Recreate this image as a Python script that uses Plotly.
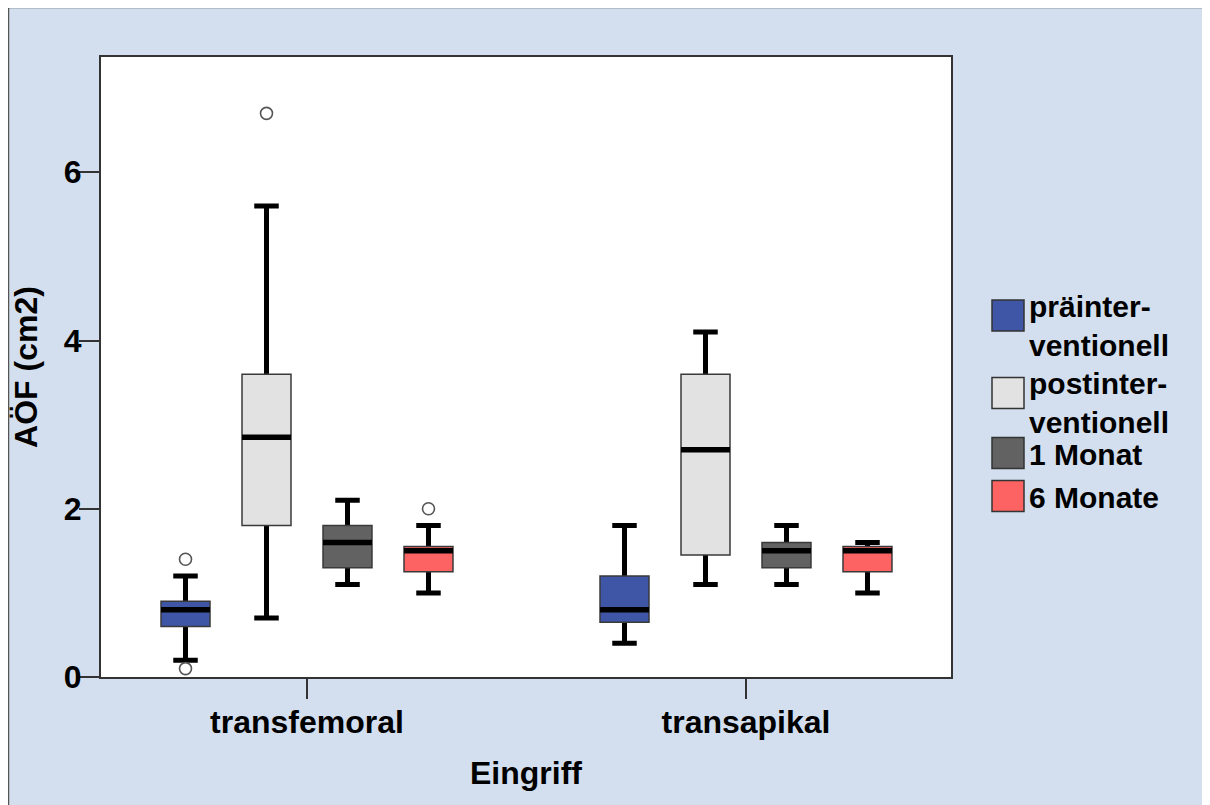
import numpy as np
import plotly.graph_objects as go

# ---------------- data ----------------
categories = ["transfemoral", "transapikal"]
series_names = ["präinterventionell", "postinterventionell", "1 Monat", "6 Monate"]
legend_labels = ["präinter-<br>ventionell", "postinter-<br>ventionell", "1 Monat", "6 Monate"]
colors = ["#3f56a7", "#e2e2e2", "#626262", "#fd6363"]

lower_whisker = [[0.2, 0.4], [0.7, 1.1], [1.1, 1.1], [1.0, 1.0]]
q1_values = [[0.6, 0.65], [1.8, 1.45], [1.3, 1.3], [1.25, 1.25]]
medians = [[0.8, 0.8], [2.85, 2.7], [1.6, 1.5], [1.5, 1.5]]
q3_values = [[0.9, 1.2], [3.6, 3.6], [1.8, 1.6], [1.55, 1.55]]
upper_whisker = [[1.2, 1.8], [5.6, 4.1], [2.1, 1.8], [1.8, 1.6]]
# outliers per series, per category
outliers = [[[1.4, 0.1], []], [[6.7], []], [[], []], [[2.0], []]]

y_ticks = [0, 2, 4, 6]

# ---------------- layout constants ----------------
OFF = 8  # page offset of the figure (body margin)
W, H = 1202, 797
L, R, T, B = 93, 259, 49, 128
PW, PH = W - L - R, H - T - B
SLOT = 0.1845
BOX_W = 0.1116
FONT = dict(family="Liberation Sans, Arial, sans-serif", size=32, color="black", weight="bold")
LEG_FONT = dict(FONT, size=30)
BG = "#d3dfee"


def px_x(px):
    return (px - OFF - L) / PW


def px_y(py):
    return (H - B - (py - OFF)) / PH


fig = go.Figure()
base_x = np.arange(len(categories), dtype=float)

for s in range(len(series_names)):
    xs = base_x + (s - 1.5) * SLOT
    med = np.array(medians[s])
    # 1) thick whiskers (box collapsed to the median)
    fig.add_trace(go.Box(
        x=xs, q1=med, median=med, q3=med,
        lowerfence=lower_whisker[s], upperfence=upper_whisker[s],
        width=BOX_W, whiskerwidth=0.5,
        line=dict(color="black", width=5), fillcolor="black",
        showlegend=False, hoverinfo="skip", boxpoints=False,
    ))
    # 2) filled box with thin outline
    fig.add_trace(go.Box(
        x=xs, q1=q1_values[s], median=medians[s], q3=q3_values[s],
        lowerfence=q1_values[s], upperfence=q3_values[s],
        width=BOX_W, whiskerwidth=0,
        line=dict(color="#3a3a3a", width=1.5), fillcolor=colors[s],
        name=series_names[s], showlegend=False, boxpoints=False,
    ))
    # 3) thick median line
    fig.add_trace(go.Box(
        x=xs, q1=med, median=med, q3=med,
        lowerfence=med, upperfence=med,
        width=BOX_W, whiskerwidth=0,
        line=dict(color="black", width=5.5), fillcolor="black",
        showlegend=False, hoverinfo="skip", boxpoints=False,
    ))
    # outliers
    ox, oy = [], []
    for c in range(len(categories)):
        for v in outliers[s][c]:
            ox.append(xs[c])
            oy.append(v)
    if ox:
        fig.add_trace(go.Scatter(
            x=ox, y=oy, mode="markers", showlegend=False,
            marker=dict(symbol="circle-open", size=12, color="#555555", line=dict(width=1.6)),
        ))

shapes = [
    # outer frame border
    dict(type="rect", xref="paper", yref="paper", layer="below",
         x0=px_x(8.5), x1=px_x(1208.5), y0=px_y(830), y1=px_y(7.5),
         fillcolor=BG, line=dict(color="#555555", width=1.5)),
    # white plot area
    dict(type="rect", xref="paper", yref="paper", layer="below",
         x0=0, x1=1, y0=0, y1=1, fillcolor="white", line=dict(width=0)),
]

annotations = []
sq_centers = [315.5, 393, 453, 496]
for s in range(len(series_names)):
    cy = sq_centers[s]
    shapes.append(dict(type="rect", xref="paper", yref="paper",
                       x0=px_x(992), x1=px_x(1024), y0=px_y(cy + 15.5), y1=px_y(cy - 15.5),
                       fillcolor=colors[s], line=dict(color="#333333", width=1.5)))
    two_lines = "<br>" in legend_labels[s]
    ty = cy + 10 if two_lines else cy + 1
    annotations.append(dict(xref="paper", yref="paper", x=px_x(1027), y=px_y(ty),
                            xanchor="left", yanchor="middle", align="left",
                            text=legend_labels[s], showarrow=False, font=LEG_FONT))

fig.update_layout(
    width=W, height=H, autosize=False,
    margin=dict(l=L, r=R, t=T, b=B, pad=0),
    paper_bgcolor=BG, plot_bgcolor="white",
    boxmode="overlay", showlegend=False,
    font=FONT,
    shapes=shapes, annotations=annotations,
    xaxis=dict(
        range=[(101 - 307) / 439, (951 - 307) / 439],
        tickvals=base_x, ticktext=categories,
        ticks="outside", ticklen=20, tickwidth=1.5, tickcolor="#333333",
        ticklabelstandoff=-4,
        showline=True, mirror=True, linecolor="#333333", linewidth=2,
        showgrid=False, zeroline=False, tickfont=FONT,
        title=dict(text="Eingriff", font=FONT, standoff=22),
    ),
    yaxis=dict(
        range=[0, 7.37], tickvals=y_ticks,
        ticks="outside", ticklen=20, tickwidth=1.5, tickcolor="#333333",
        ticklabelstandoff=-9,
        showline=True, mirror=True, linecolor="#333333", linewidth=2,
        showgrid=False, zeroline=False, tickfont=FONT,
        title=dict(text="AÖF (cm2)", font=FONT, standoff=20),
    ),
)

fig.write_html("out.html", post_script="document.body.style.overflow='hidden';")
